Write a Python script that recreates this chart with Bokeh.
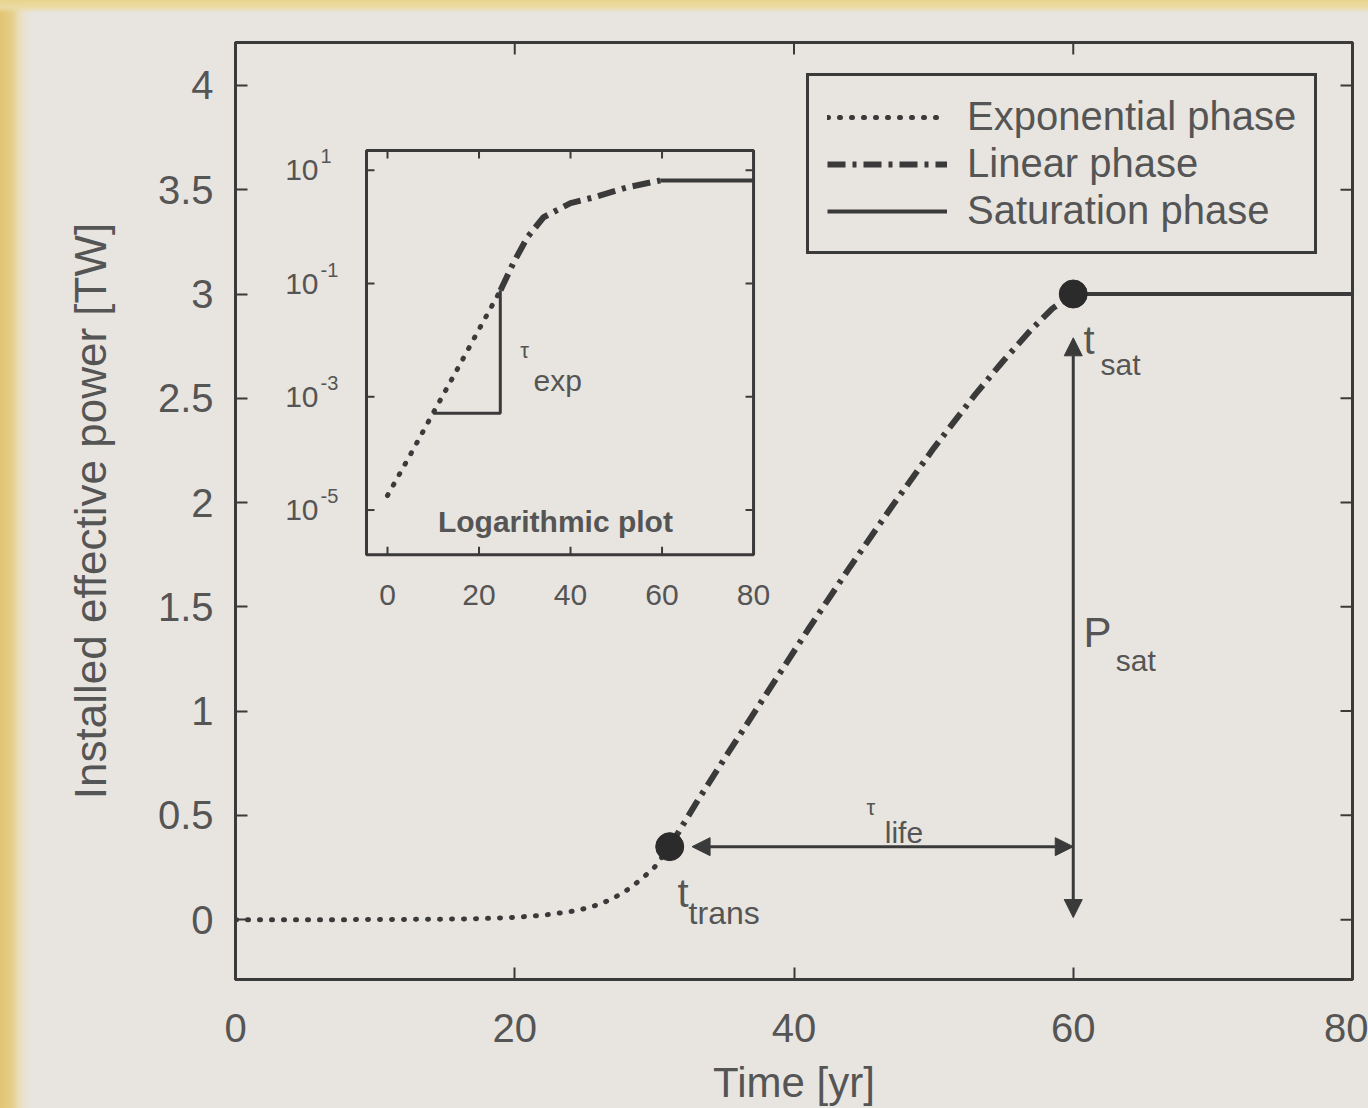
from bokeh.plotting import figure
from bokeh.models import Range1d, LogScale, Arrow, NormalHead, Label, FixedTicker
from bokeh.core.properties import value
from bokeh.embed import file_html
from bokeh.resources import INLINE

# ---------------- data ----------------
exp_t = [0, 4, 8, 12, 16, 18, 20, 22, 24, 25, 26, 27, 28, 29, 30, 31.1]
exp_p = [0.0, 0.0, 0.0, 0.001, 0.003, 0.006, 0.011, 0.021, 0.039, 0.053, 0.072,
         0.10, 0.14, 0.19, 0.25, 0.35]
lin_t = [31.1, 33, 35, 38, 41, 44, 47, 50, 53, 55, 57, 58.5, 60]
lin_p = [0.35, 0.56, 0.77, 1.08, 1.39, 1.69, 1.98, 2.26, 2.52, 2.68, 2.83, 2.93, 3.0]
sat_t = [60, 80]
sat_p = [3.0, 3.0]
dots_t = [31.1, 60]
dots_p = [0.35, 3.0]

# inset (logarithmic plot)
inset_exp_t = [0, 5, 10, 15, 20, 24.7]
inset_exp_p = [1.8e-5, 9.5e-5, 5.2e-4, 2.8e-3, 1.55e-2, 7.6e-2]
inset_lin_t = [24.7, 27.5, 30.6, 34.1, 40, 45, 52.4, 59.6]
inset_lin_p = [0.076, 0.23, 0.66, 1.48, 2.63, 3.31, 5.0, 6.6]
inset_sat_t = [59.6, 80]
inset_sat_p = [6.6, 6.6]
tri_t = [10, 24.65, 24.65]
tri_p = [5.1e-4, 5.1e-4, 7.6e-2]

x_ticks = [0, 20, 40, 60, 80]
y_ticks = [0, 0.5, 1, 1.5, 2, 2.5, 3, 3.5, 4]
y_tick_labels = ["0", "0.5", "1", "1.5", "2", "2.5", "3", "3.5", "4"]
inset_xticks = [0, 20, 40, 60, 80]
inset_xtick_labels = ["0", "20", "40", "60", "80"]
inset_yticks = [1e1, 1e-1, 1e-3, 1e-5]
inset_ytick_exps = ["1", "-1", "-3", "-5"]

legend_labels = ["Exponential phase", "Linear phase", "Saturation phase"]

# ---------------- styling ----------------
BG = "#e8e5e0"
DARK = "#3a3a3a"
TXT = "#555555"
FONT = "Liberation Sans"
X0, X1 = 0, 80
Y0, Y1 = -0.287, 4.206

p = figure(width=1368, height=1108, output_backend="svg", toolbar_location=None,
           x_range=Range1d(X0, X1), y_range=Range1d(Y0, Y1),
           min_border_left=235, min_border_right=16, min_border_top=42,
           min_border_bottom=128)
p.background_fill_color = BG
p.border_fill_color = None
p.grid.visible = False
p.outline_line_color = DARK
p.outline_line_width = 3

def style_axis(ax, ticks, overrides=None):
    ax.ticker = FixedTicker(ticks=ticks)
    ax.major_tick_in = 12
    ax.major_tick_out = 0
    ax.minor_tick_in = 0
    ax.minor_tick_out = 0
    ax.major_tick_line_color = DARK
    ax.major_tick_line_width = 2
    ax.axis_line_color = DARK
    ax.axis_line_width = 3
    ax.major_label_text_font = FONT
    ax.major_label_text_color = TXT
    ax.major_label_text_font_size = "40px"
    if overrides:
        ax.major_label_overrides = overrides

xa = p.xaxis[0]
style_axis(xa, x_ticks)
xa.major_label_standoff = 34
xa.axis_label = "Time [yr]"
xa.axis_label_text_font = FONT
xa.axis_label_text_font_size = "42px"
xa.axis_label_text_font_style = "normal"
xa.axis_label_text_color = TXT
xa.axis_label_standoff = 14

ya = p.yaxis[0]
style_axis(ya, y_ticks, {t: l for t, l in zip(y_ticks, y_tick_labels)})
ya.major_label_standoff = 22
ya.axis_label = "Installed effective power [TW]"
ya.axis_label_text_font = FONT
ya.axis_label_text_font_size = "44px"
ya.axis_label_text_font_style = "normal"
ya.axis_label_text_color = TXT
ya.axis_label_standoff = 40

# mirrored inward ticks on the top and right edges
p.ray(x=x_ticks, y=[Y1] * len(x_ticks), length=12, length_units="screen",
      angle=-1.5708, line_color=DARK, line_width=2)
p.ray(x=[X1] * len(y_ticks), y=y_ticks, length=12, length_units="screen",
      angle=3.14159, line_color=DARK, line_width=2)

# ---------------- main curves ----------------
p.line(exp_t, exp_p, line_color=DARK, line_width=5, line_dash="1 11",
       line_cap="round", legend_label=legend_labels[0])
p.line(lin_t, lin_p, line_color=DARK, line_width=6, line_dash="18 7 4 7",
       legend_label=legend_labels[1])
p.line(sat_t, sat_p, line_color=DARK, line_width=4, legend_label=legend_labels[2])
p.scatter(dots_t, dots_p, size=28, color="#2b2b2b")

# arrows
head = dict(size=18, fill_color=DARK, line_color=DARK)
p.add_layout(Arrow(start=NormalHead(**head), end=NormalHead(**head),
                   x_start=32.7, y_start=0.35, x_end=60, y_end=0.35,
                   line_color=DARK, line_width=3))
p.add_layout(Arrow(start=NormalHead(**head), end=NormalHead(**head),
                   x_start=60, y_start=2.79, x_end=60, y_end=0.01,
                   line_color=DARK, line_width=3))

def label(x, y, text, size, **kw):
    p.add_layout(Label(x=x, y=y, text=text, text_font=FONT, text_font_size=size,
                       text_color=TXT, text_baseline="alphabetic", **kw))

label(31.66, 0.13, "t", "40px")
label(32.45, 0.034, "trans", "32px")
label(60.74, 2.78, "t", "40px")
label(61.96, 2.66, "sat", "30px")
label(45.2, 0.537, "τ", "22px")
label(46.5, 0.417, "life", "30px")
label(60.74, 1.375, "P", "42px")
label(63.04, 1.245, "sat", "30px")

# ---------------- inset (log plot) via extra ranges ----------------
p.extra_x_ranges = {"ix": Range1d(-33.22, 210.9)}
p.extra_y_ranges = {"iy": Range1d(10 ** -13.29, 10 ** 3.256)}
p.extra_y_scales = {"iy": LogScale()}
IR = dict(x_range_name="ix", y_range_name="iy")
in_left, in_right = -4.59, 80
in_bottom, in_top = 10 ** -5.79, 10 ** 1.351

p.quad(left=[in_left], right=[in_right], bottom=[in_bottom], top=[in_top],
       fill_color=BG, line_color=DARK, line_width=3, **IR)

n = len(inset_xticks)
p.ray(x=inset_xticks, y=[in_bottom] * n, length=8, length_units="screen",
      angle=1.5708, line_color=DARK, line_width=2, **IR)
p.ray(x=inset_xticks, y=[in_top] * n, length=8, length_units="screen",
      angle=-1.5708, line_color=DARK, line_width=2, **IR)
m = len(inset_yticks)
p.ray(x=[in_left] * m, y=inset_yticks, length=8, length_units="screen",
      angle=0, line_color=DARK, line_width=2, **IR)
p.ray(x=[in_right] * m, y=inset_yticks, length=8, length_units="screen",
      angle=3.14159, line_color=DARK, line_width=2, **IR)

p.text(x=inset_xticks, y=[in_bottom] * n, text=inset_xtick_labels,
       text_align="center", text_baseline="top", y_offset=30,
       text_font=value(FONT), text_font_size="30px", text_color=TXT, **IR)
p.text(x=[in_left] * m, y=inset_yticks, text=["10"] * m,
       text_align="right", text_baseline="middle", x_offset=-48,
       text_font=value(FONT), text_font_size="30px", text_color=TXT, **IR)
p.text(x=[in_left] * m, y=inset_yticks, text=inset_ytick_exps,
       text_align="left", text_baseline="middle", x_offset=-46, y_offset=-14,
       text_font=value(FONT), text_font_size="20px", text_color=TXT, **IR)

p.line(inset_exp_t, inset_exp_p, line_color=DARK, line_width=5, line_dash="1 11",
       line_cap="round", **IR)
p.line(inset_lin_t, inset_lin_p, line_color=DARK, line_width=6,
       line_dash="18 7 4 7", **IR)
p.line(inset_sat_t, inset_sat_p, line_color=DARK, line_width=4, **IR)
p.line(tri_t, tri_p, line_color=DARK, line_width=3, **IR)

p.text(x=[29.0], y=[6.6e-3], text=["τ"], text_font=value(FONT),
       text_font_size="22px", text_color=TXT, text_baseline="alphabetic", **IR)
p.text(x=[31.9], y=[1.95e-3], text=["exp"], text_font=value(FONT),
       text_font_size="30px", text_color=TXT, text_baseline="alphabetic", **IR)
p.text(x=[36.7], y=[6.2e-6], text=["Logarithmic plot"], text_font=value(FONT),
       text_font_size="30px", text_font_style="bold", text_color=TXT,
       text_align="center", text_baseline="alphabetic", **IR)

# ---------------- legend ----------------
lg = p.legend[0]
lg.location = (571, 725)
lg.label_text_font = FONT
lg.label_text_font_size = "40px"
lg.label_text_color = TXT
lg.glyph_width = 120
lg.glyph_height = 40
lg.label_standoff = 20
lg.padding = 18
lg.spacing = 2
lg.margin = 0
lg.border_line_color = DARK
lg.border_line_width = 3
lg.border_line_alpha = 1.0
lg.background_fill_color = BG
lg.background_fill_alpha = 1.0

html = file_html(p, INLINE)
css = ("<style>html,body{margin:0;padding:0;overflow:hidden;"
       "background:linear-gradient(to bottom,#e9d48c 0px,#ebdba4 7px,rgba(232,229,224,0) 13px),"
       "linear-gradient(to right,#e2c474 0px,#e6cf8a 12px,#e9e0c2 20px," + BG + " 30px);}</style>")
html = html.replace("</head>", css + "</head>", 1)
open("out.html", "w").write(html)
